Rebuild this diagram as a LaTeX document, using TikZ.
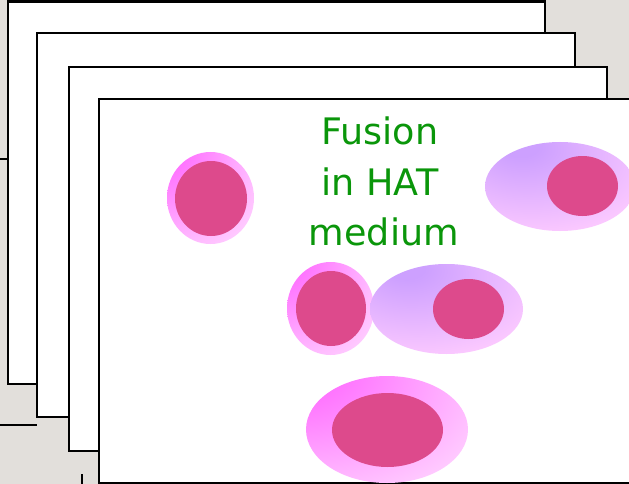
\documentclass[tikz,border=0pt]{standalone}
\usepackage{fontspec}
\newfontfamily\labelfont{DejaVu Sans}
\definecolor{desk}{RGB}{226,223,219}
\definecolor{rimhot}{RGB}{255,100,255}
\definecolor{rimsoft}{RGB}{255,204,255}
\definecolor{lav}{RGB}{205,160,255}
\definecolor{nucleus}{RGB}{221,74,140}
\definecolor{caption}{RGB}{10,150,10}
% bright rim lit from the upper left
\pgfdeclareradialshading{cellrim}{\pgfpoint{-38bp}{38bp}}{%
  color(0bp)=(rimhot); color(12bp)=(rimhot); color(52bp)=(rimsoft); color(100bp)=(rimsoft)}
% lavender vesicle body
\pgfdeclareradialshading{vesicle}{\pgfpoint{-14bp}{24bp}}{%
  color(0bp)=(lav); color(6bp)=(lav); color(44bp)=(rimsoft); color(100bp)=(rimsoft)}
\tikzset{
  sheet/.style={draw=black, fill=white, line width=2.8pt},
  trace/.style={draw=black, line width=2.8pt},
  cell/.style={shading=cellrim},
  vesbody/.style={shading=vesicle},
  core/.style={fill=nucleus},
  title/.style={text=caption, font=\labelfont\fontsize{36.5}{50}\selectfont, align=center, inner sep=0pt}
}
\begin{document}
\begin{tikzpicture}[x=1pt,y=-1pt]
  \useasboundingbox (0,0) rectangle (629,484);
  \fill[desk] (0,0) rectangle (629,484);
  % traces of outlines lying beneath the stack
  \draw[trace] (0,159) -- (8,159);
  \draw[trace] (0,425) -- (37,425);
  \draw[trace] (82,474) -- (82,490);
  % stacked sheets
  \path[sheet] (8,1.5) rectangle (545,384);
  \path[sheet] (37,33) rectangle (575,417);
  \path[sheet] (69,67) rectangle (607,451);
  \path[sheet] (99,99) rectangle (660,483);
  % caption
  \node[title, anchor=base] (cap1) at (380,145) {Fusion};
  \node[title, anchor=base] (cap2) at (380,195) {in HAT};
  \node[title, anchor=base] (cap3) at (384,245) {medium};
  % single cell, upper left
  \path[cell] (210.5,198) ellipse (43.5 and 46);
  \path[core] (211,198.5) ellipse (36 and 37.5);
  % vesicle with cell, upper right
  \path[vesbody] (560,186.5) ellipse (75 and 44.5);
  \path[core] (582.5,186) ellipse (35.5 and 30);
  % cell next to vesicle, middle
  \path[cell] (330.5,308.5) ellipse (43.5 and 46.5);
  \path[core] (331,308.5) ellipse (35 and 37.5);
  \path[vesbody] (446.5,309) ellipse (76.5 and 45);
  \path[core] (468.5,309) ellipse (35.5 and 30);
  % fused cell, bottom
  \path[cell] (387,429.5) ellipse (81 and 53.5);
  \path[core] (387.5,430) ellipse (55.5 and 37);
\end{tikzpicture}
\end{document}
